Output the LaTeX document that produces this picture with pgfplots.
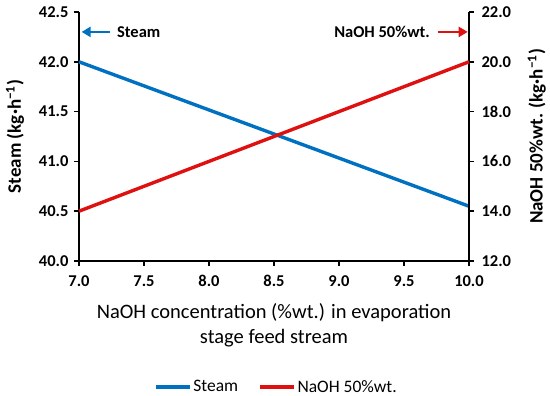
\documentclass[border=0pt]{standalone}
\usepackage{pgfplots}
\pgfplotsset{compat=1.18}
\usepackage{fontspec}
\setmainfont{Carlito}
\usetikzlibrary{arrows.meta}
\definecolor{cblue}{RGB}{0,112,192}
\definecolor{cred}{RGB}{222,16,16}
\begin{document}
\begin{tikzpicture}
\useasboundingbox (0pt,0pt) rectangle (550pt,396pt);
\pgfplotsset{
  common/.style={
    at={(79pt,135pt)}, anchor=south west,
    scale only axis, width=390pt, height=249pt,
    xmin=7, xmax=10, enlargelimits=false, clip=false,
    tick align=outside, major tick length=5pt,
    axis line style={line width=1.5pt, black},
    every tick/.style={line width=1.5pt, black},
    tick label style={font=\bfseries\fontsize{16.5}{18}\selectfont},
    /pgf/number format/assume math mode=true,
    /pgf/number format/.cd, fixed, fixed zerofill, precision=1,
  }
}
\begin{axis}[common,
  axis x line*=bottom, axis y line*=left,
  ymin=40, ymax=42.5, ytick={40,40.5,...,42.5},
  xtick={7,7.5,...,10},
  xticklabel style={yshift=-6pt},
  yticklabel style={xshift=-2pt},
  xlabel={NaOH concentration (\%wt.) in evaporation\\stage feed stream},
  xlabel style={at={(axis description cs:0.5,-0.259)}, anchor=center, align=center,
    font=\fontsize{20.5}{25}\selectfont},
  ylabel={Steam (kg·h\textsuperscript{−1})},
  ylabel style={at={(axis description cs:-0.164,0.5)}, anchor=center, rotate=0,
    font=\bfseries\fontsize{19}{22}\selectfont},
  legend style={at={(axis description cs:0.506,-0.506)}, anchor=center, draw=none,
    font=\fontsize{17.5}{20}\selectfont, /tikz/every even column/.append style={column sep=18pt}},
  legend columns=2,
  legend image code/.code={\draw[#1] (0pt,0pt) -- (34pt,0pt);},
]
\addplot[cblue, line width=3.4pt] coordinates {(7,42.0) (10,40.55)};
\addlegendentry{Steam}
\addlegendimage{cred, line width=3.4pt}
\addlegendentry{NaOH 50\%wt.}
\draw[cblue, line width=2.2pt, -{Triangle[length=9pt,width=10pt]}] (axis cs:7.24,42.3) -- (axis cs:7.02,42.3);
\node[anchor=west, inner sep=0pt, font=\bfseries\fontsize{16.5}{18}\selectfont] at (axis cs:7.292,42.3) {Steam};
\end{axis}
\begin{axis}[common,
  axis y line*=right, axis x line=none,
  ymin=12, ymax=22, ytick={12,14,...,22},
  yticklabel style={xshift=4pt},
  ylabel={NaOH 50\%wt. (kg·h\textsuperscript{−1})},
  ylabel style={at={(axis description cs:1.174,0.5)}, anchor=center, rotate=0,
    font=\bfseries\fontsize{19}{22}\selectfont},
]
\addplot[cred, line width=3.4pt] coordinates {(7,14.0) (10,20.0)};
\draw[cred, line width=2.2pt, -{Triangle[length=9pt,width=10pt]}] (axis cs:9.76,21.2) -- (axis cs:9.99,21.2);
\node[anchor=east, inner sep=0pt, font=\bfseries\fontsize{16.5}{18}\selectfont] at (axis cs:9.70,21.2) {NaOH 50\%wt.};
\end{axis}
\end{tikzpicture}
\end{document}
